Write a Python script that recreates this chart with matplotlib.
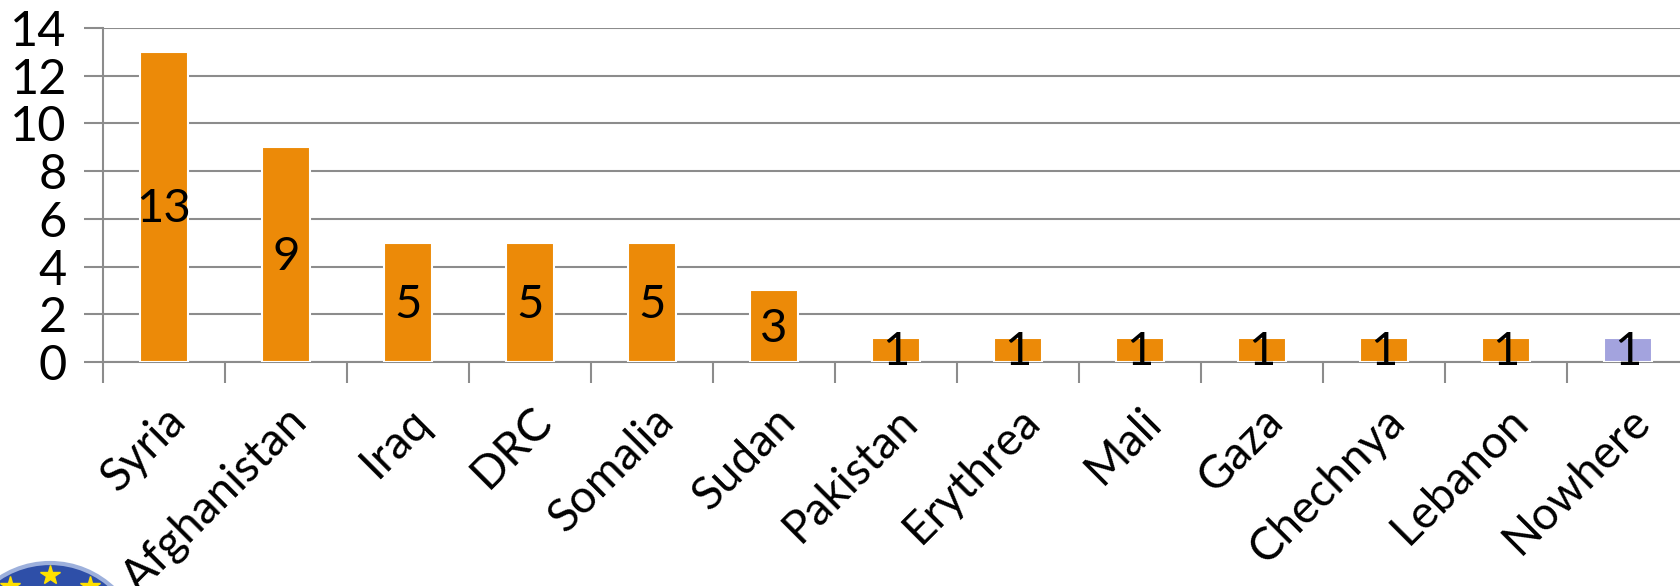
import matplotlib.pyplot as plt
import numpy as np
from matplotlib.patches import Circle

plt.rcParams['font.family'] = ['Lato', 'DejaVu Sans']

# Данные
countries = ['Syria', 'Afghanistan', 'Iraq', 'DRC', 'Somalia', 'Sudan', 'Pakistan',
             'Erythrea', 'Mali', 'Gaza', 'Chechnya', 'Lebanon', 'Nowhere']
counts = [13, 9, 5, 5, 5, 3, 1, 1, 1, 1, 1, 1, 1]
bar_colors = ['#EC8A08'] * 12 + ['#A3A3DE']

fig = plt.figure(figsize=(16.8, 5.86), dpi=100)
ax = fig.add_axes([103 / 1680, 1 - 362 / 586, 1586 / 1680, 334 / 586])

x = np.arange(len(countries))
bars = ax.bar(x, counts, width=0.39, color=bar_colors, edgecolor='white', linewidth=1.5, zorder=3)

for bar, v in zip(bars, counts):
    ax.text(bar.get_x() + bar.get_width() / 2, v / 2 - 0.1, str(v), ha='center', va='center',
            fontsize=34, color='black', zorder=4)

ax.set_xlim(-0.5, len(countries) - 0.5)
ax.set_ylim(0, 14)
ax.set_yticks(range(0, 15, 2))
ax.tick_params(axis='y', labelsize=35, length=14, width=1.5, color='#8C8C8C', pad=12)

# категорийные деления между столбцами
ax.set_xticks(np.arange(-0.5, len(countries), 1))
ax.set_xticklabels([])
ax.tick_params(axis='x', which='major', length=15, width=1.5, color='#8C8C8C')
ax.set_xticks(x, minor=True)
ax.set_xticklabels(countries, minor=True, rotation=45, ha='right', va='top',
                   rotation_mode='anchor', fontsize=33)
ax.tick_params(axis='x', which='minor', length=0, pad=27)

ax.grid(True, axis='y', color='#8C8C8C', linewidth=1.5, zorder=0)
for s in ['top', 'right']:
    ax.spines[s].set_visible(False)
ax.spines['left'].set_color('#8C8C8C')
ax.spines['left'].set_linewidth(1.5)
ax.spines['bottom'].set_color('#8C8C8C')
ax.spines['bottom'].set_linewidth(1.5)

# логотип ЕС в углу
cx, cy = 50, -69
logo = Circle((cx, cy), 92, transform=None, facecolor='#2E4FA8', edgecolor='#9DB0DC',
              linewidth=3, zorder=1)
fig.patches.append(logo)
for ang in np.linspace(0, 2 * np.pi, 12, endpoint=False) + np.pi / 2:
    sx = cx + 80 * np.cos(ang)
    sy = cy + 80 * np.sin(ang)
    fig.lines.append(plt.Line2D([sx], [sy], transform=None, marker='*', markersize=15,
                                color='#FFE000', linestyle='none'))

plt.savefig('out.png', dpi=100)
